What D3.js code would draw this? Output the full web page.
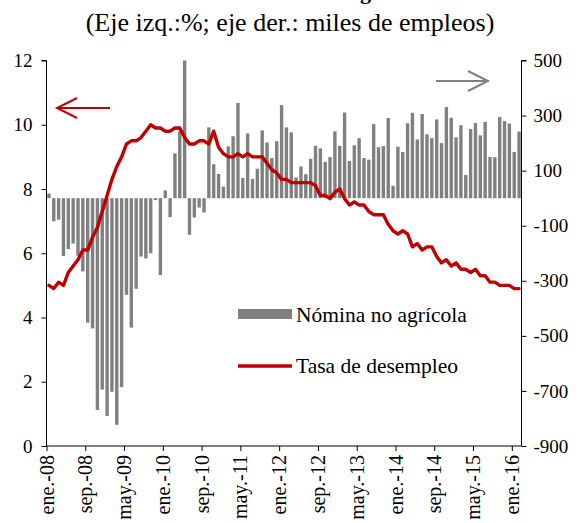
<!DOCTYPE html>
<html><head><meta charset="utf-8">
<script src="https://cdn.jsdelivr.net/npm/d3@7"></script>
<style>
html,body{margin:0;padding:0;background:#fff;}
svg{display:block;}
text{font-family:"Liberation Serif","Times New Roman",Times,serif;fill:#000;}
</style></head>
<body>
<svg id="c" width="578" height="523"></svg>
<script>
const monthNames = ["ene.","feb.","mar.","abr.","may.","jun.","jul.","ago.","sep.","oct.","nov.","dic."];
const years = ["08","09","10","11","12","13","14","15","16"];
const categories = [];
years.forEach(y => monthNames.forEach(m => categories.push(m + "-" + y)));
categories.length = 98; // ene.-08 ... feb.-16

// Nómina no agrícola (miles de empleos, eje derecho)
const payroll = [
  17,-84,-78,-210,-185,-165,-209,-266,-452,-473,-769,-695,
  -791,-703,-823,-686,-351,-470,-329,-212,-219,-200,-7,-279,
  28,-69,163,243,522,-133,-70,-34,-52,257,123,88,
  42,188,225,346,73,235,70,107,246,202,146,207,
  338,257,239,75,115,87,143,190,181,132,149,243,
  190,311,135,192,218,146,140,269,185,189,291,45,
  187,168,272,310,213,306,232,218,286,200,331,292,
  221,265,84,251,273,228,277,150,149,295,280,271,
  168,242
];
// Tasa de desempleo (%, eje izquierdo)
const unemployment = [
  5.0,4.9,5.1,5.0,5.4,5.6,5.8,6.1,6.1,6.5,6.8,7.3,
  7.8,8.3,8.7,9.0,9.4,9.5,9.5,9.6,9.8,10.0,9.9,9.9,
  9.8,9.8,9.9,9.9,9.6,9.4,9.4,9.5,9.5,9.4,9.8,9.3,
  9.1,9.0,9.0,9.1,9.0,9.1,9.0,9.0,9.0,8.8,8.6,8.5,
  8.3,8.3,8.2,8.2,8.2,8.2,8.2,8.1,7.8,7.8,7.7,7.9,
  8.0,7.7,7.5,7.6,7.5,7.5,7.3,7.2,7.2,7.2,6.9,6.7,
  6.6,6.7,6.6,6.2,6.3,6.1,6.2,6.2,5.9,5.7,5.8,5.6,
  5.7,5.5,5.5,5.4,5.5,5.3,5.3,5.1,5.1,5.0,5.0,5.0,
  4.9,4.9
];
const xTickLabels = ["ene.-08","sep.-08","may.-09","ene.-10","sep.-10","may.-11","ene.-12","sep.-12","may.-13","ene.-14","sep.-14","may.-15","ene.-16"];
const leftTicks = [0,2,4,6,8,10,12];
const rightTicks = [500,300,100,-100,-300,-500,-700,-900];
const title = "EE.UU.: Nómina no agrícola";
const subtitle = "(Eje izq.:%; eje der.: miles de empleos)";
const legendLabels = ["Nómina no agrícola","Tasa de desempleo"];

const svg = d3.select("#c");
const L = 46.5, R = 521.5, T = 60.5, B = 446;
const BAR = "#808080", RED = "#c00000";

const x = d3.scaleBand().domain(d3.range(categories.length)).range([L, R]).paddingInner(0.3).paddingOuter(0.15);
const xLin = d3.scaleLinear().domain([0, categories.length]).range([L, R]);
const yL = d3.scaleLinear().domain([0, 12]).range([B, T]);
const yR = d3.scaleLinear().domain([-900, 500]).range([B, T]);

// titles (the main title sits mostly above the top edge, as in the reference)
svg.append("text").attr("x", 290).attr("y", -1).attr("text-anchor","middle")
  .style("font-size","22px").style("font-weight","bold").text(title);
svg.append("text").attr("x", 290).attr("y", 31).attr("text-anchor","middle")
  .style("font-size","26px").text(subtitle);

// clip
svg.append("defs").append("clipPath").attr("id","clip").append("rect")
  .attr("x", L).attr("y", T).attr("width", R-L).attr("height", B-T);

// bars
svg.append("g").attr("clip-path","url(#clip)").selectAll("rect").data(payroll).join("rect")
  .attr("x", (d,i) => x(i)).attr("width", x.bandwidth())
  .attr("y", d => yR(Math.max(0,d))).attr("height", d => Math.abs(yR(d) - yR(0)))
  .attr("fill", BAR);

// line
const line = d3.line().x((d,i) => x(i) + x.bandwidth()/2).y(d => yL(d));
svg.append("path").datum(unemployment).attr("d", line)
  .attr("fill","none").attr("stroke", RED).attr("stroke-width", 3.4)
  .attr("stroke-linejoin","round").attr("stroke-linecap","round");

// axes
const axL = svg.append("g").attr("transform", `translate(${L},0)`)
  .call(d3.axisLeft(yL).tickValues(leftTicks).tickSize(5).tickPadding(9).tickFormat(d3.format("d")));
const axR = svg.append("g").attr("transform", `translate(${R},0)`)
  .call(d3.axisRight(yR).tickValues(rightTicks).tickSize(5).tickPadding(7).tickFormat(d => d < 0 ? "-" + Math.abs(d) : d));
const xTickIdx = xTickLabels.map(lab => categories.indexOf(lab));
const axB = svg.append("g").attr("transform", `translate(0,${B})`)
  .call(d3.axisBottom(xLin).tickValues(xTickIdx).tickSize(5).tickFormat((d,i) => xTickLabels[i]));
axB.selectAll("text").attr("transform","rotate(-90)").attr("text-anchor","end")
  .attr("x", -9).attr("y", 0).attr("dy","0.33em");
[axL, axR].forEach(a => a.selectAll("text").style("font-size","19px"));
axB.selectAll("text").style("font-size","20px");
[axL, axR, axB].forEach(a => {
  a.selectAll("text").style("font-family","'Liberation Serif','Times New Roman',serif").attr("fill","#000");
  a.selectAll("line,path").attr("stroke","#000").attr("stroke-width",1);
});
axL.select(".domain").attr("d", `M-5,${T}H0V${B}`);
axR.select(".domain").attr("d", `M5,${T}H0V${B}`);
axB.select(".domain").attr("d", `M${L},0H${R}`);

// arrows
const arrowL = svg.append("g").attr("stroke", RED).attr("stroke-width", 2).attr("fill","none");
arrowL.append("line").attr("x1", 57).attr("y1", 108).attr("x2", 110).attr("y2", 108);
arrowL.append("polyline").attr("points", "77,98 57,108 77,118");
const arrowR = svg.append("g").attr("stroke", BAR).attr("stroke-width", 2).attr("fill","none");
arrowR.append("line").attr("x1", 436).attr("y1", 81).attr("x2", 488).attr("y2", 81);
arrowR.append("polyline").attr("points", "468,71 488,81 468,91");

// legend
svg.append("rect").attr("x", 238).attr("y", 309).attr("width", 54).attr("height", 10).attr("fill", BAR);
svg.append("text").attr("x", 296).attr("y", 322).style("font-size","21.5px").text(legendLabels[0]);
svg.append("line").attr("x1", 238).attr("x2", 292).attr("y1", 366).attr("y2", 366)
  .attr("stroke", RED).attr("stroke-width", 3.4);
svg.append("text").attr("x", 296).attr("y", 373).style("font-size","21.5px").text(legendLabels[1]);
</script>
</body></html>
